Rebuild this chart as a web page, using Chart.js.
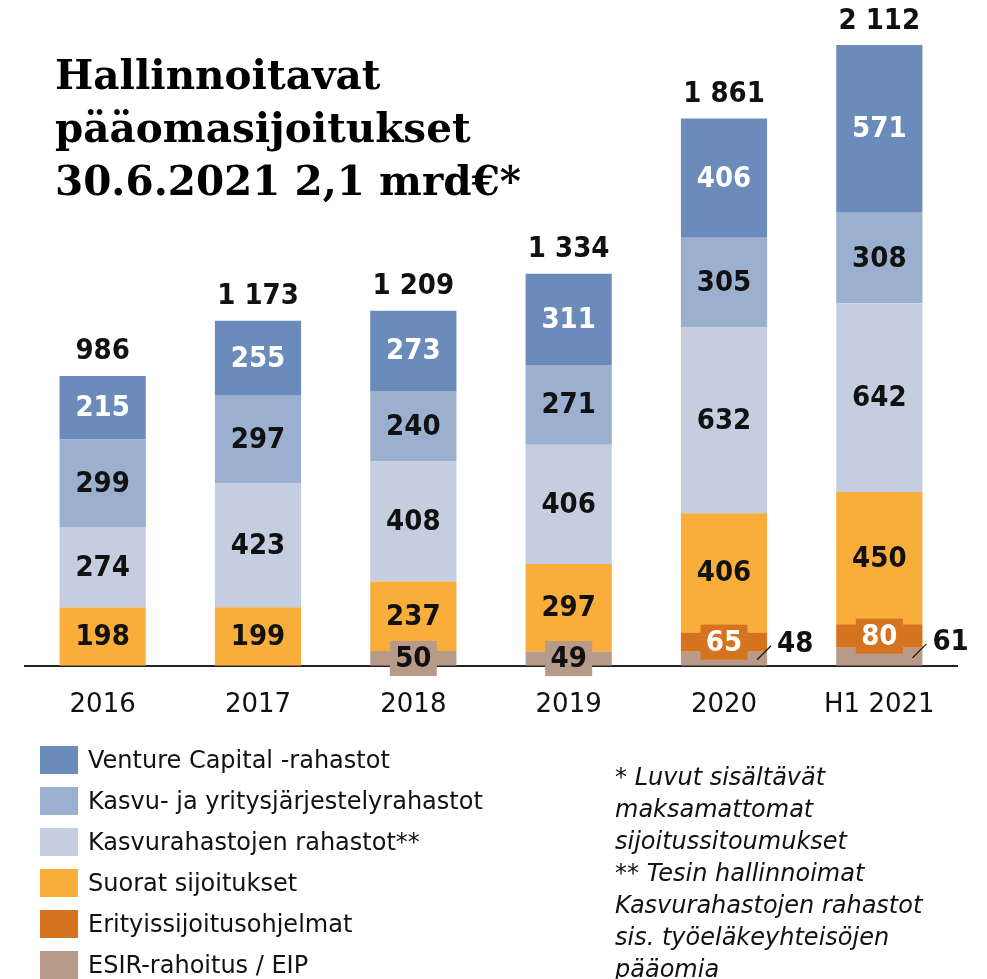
<!DOCTYPE html>
<html>
<head>
<meta charset="utf-8">
<script src="https://cdn.jsdelivr.net/npm/chart.js@4.4.1/dist/chart.umd.min.js"></script>
<style>
  body { margin: 0; background: #fff; }
  #wrap { position: relative; width: 987px; height: 979px; overflow: hidden; }
  #myChart { position: absolute; left: 0; top: 0; }
  .title { position: absolute; left: 55px; top: 49px; font-family: "DejaVu Serif", serif; font-weight: bold; font-size: 40.5px; line-height: 53px; color: #000; }
  .legend { position: absolute; left: 40px; top: 746px; font-family: "DejaVu Sans", sans-serif; font-size: 24px; color: #111; }
  .legend div { height: 41px; display: flex; align-items: flex-start; }
  .legend span.sw { display: inline-block; width: 38px; height: 28px; margin-right: 10px; }
  .legend span.tx { line-height: 28px; }
  .note { position: absolute; left: 615px; top: 761px; font-family: "DejaVu Sans", sans-serif; font-style: italic; font-size: 24px; line-height: 32px; color: #111; }
</style>
</head>
<body>
<div id="wrap">
  <canvas id="myChart" width="987" height="979"></canvas>
  <div class="title">Hallinnoitavat<br>pääomasijoitukset<br>30.6.2021 2,1 mrd€*</div>
  <div class="legend" id="legend"></div>
  <div class="note">* Luvut sisältävät<br>maksamattomat<br>sijoitussitoumukset<br>** Tesin hallinnoimat<br>Kasvurahastojen rahastot<br>sis. työeläkeyhteisöjen<br>pääomia</div>
</div>
<script>
var years = ["2016", "2017", "2018", "2019", "2020", "H1 2021"];
var esir = [0, 0, 50, 49, 48, 61];
var erityis = [0, 0, 0, 0, 65, 80];
var suorat = [198, 199, 237, 297, 406, 450];
var kasvurahastot = [274, 423, 408, 406, 632, 642];
var kasvu = [299, 297, 240, 271, 305, 308];
var venture = [215, 255, 273, 311, 406, 571];
var totals = [986, 1173, 1209, 1334, 1861, 2112];

var font = '"DejaVu Sans Condensed", "DejaVu Sans", sans-serif';

// bottom to top
var series = [
  { label: "ESIR-rahoitus / EIP", data: esir, color: "#B89A88", text: "#111" },
  { label: "Erityissijoitusohjelmat", data: erityis, color: "#D6731F", text: "#fff" },
  { label: "Suorat sijoitukset", data: suorat, color: "#F9AE3C", text: "#111" },
  { label: "Kasvurahastojen rahastot**", data: kasvurahastot, color: "#C4CEE0", text: "#111" },
  { label: "Kasvu- ja yritysjärjestelyrahastot", data: kasvu, color: "#9BAFCE", text: "#111" },
  { label: "Venture Capital -rahastot", data: venture, color: "#6B8CBA", text: "#fff" },
];

function fmt(n) {
  return String(n).replace(/\B(?=(\d{3})+(?!\d))/g, " ");
}

var segLabels = {
  id: "segLabels",
  afterDatasetsDraw: function (chart) {
    var ctx = chart.ctx;
    ctx.save();
    ctx.textAlign = "center";
    ctx.textBaseline = "middle";
    ctx.font = "bold 29px " + font;
    chart.data.datasets.forEach(function (ds, di) {
      var meta = chart.getDatasetMeta(di);
      meta.data.forEach(function (bar, i) {
        var v = ds.data[i];
        if (!v) return;
        var cy = (bar.y + bar.base) / 2;
        if (di === 0 && erityis[i] > 0) {
          // outside label with leader line
          var right = bar.x + bar.width / 2;
          ctx.strokeStyle = "#111";
          ctx.lineWidth = 1.2;
          ctx.beginPath();
          ctx.moveTo(right - 10, cy + 1);
          ctx.lineTo(right + 4, cy - 13);
          ctx.stroke();
          ctx.fillStyle = "#111";
          ctx.textAlign = "left";
          ctx.fillText(fmt(v), right + 10, cy - 14);
          ctx.textAlign = "center";
          return;
        }
        if (di <= 1) {
          ctx.fillStyle = series[di].color;
          ctx.fillRect(bar.x - 23.5, cy - 17.5, 47, 35);
        }
        ctx.fillStyle = series[di].text;
        ctx.fillText(fmt(v), bar.x, cy + 1);
      });
    });
    // totals
    var top = chart.getDatasetMeta(chart.data.datasets.length - 1);
    ctx.fillStyle = "#111";
    top.data.forEach(function (bar, i) {
      ctx.fillText(fmt(totals[i]), bar.x, bar.y - 24);
    });
    ctx.restore();
  },
};

var ctx = document.getElementById("myChart").getContext("2d");
var myChart = new Chart(ctx, {
  type: "bar",
  data: {
    labels: years,
    datasets: series.map(function (s) {
      return {
        label: s.label,
        data: s.data,
        backgroundColor: s.color,
        borderWidth: 0,
        barPercentage: 0.555,
        categoryPercentage: 1,
      };
    }),
  },
  options: {
    responsive: false,
    animation: false,
    layout: {
      padding: { left: 25, right: 30, top: 0, bottom: 234 },
    },
    plugins: {
      legend: { display: false },
      tooltip: { enabled: false },
    },
    scales: {
      x: {
        stacked: true,
        grid: { display: false, drawTicks: false },
        border: { display: true, color: "#222", width: 2 },
        ticks: { color: "#111", padding: 24, font: { family: "'DejaVu Sans', sans-serif", size: 26 } },
      },
      y: {
        stacked: true,
        display: false,
        min: 0,
        max: 2265,
      },
    },
  },
  plugins: [segLabels],
});

// html legend, top to bottom
var lg = document.getElementById("legend");
series.slice().reverse().forEach(function (s) {
  var row = document.createElement("div");
  row.innerHTML = '<span class="sw" style="background:' + s.color + '"></span><span class="tx">' + s.label + "</span>";
  lg.appendChild(row);
});
</script>
</body>
</html>
